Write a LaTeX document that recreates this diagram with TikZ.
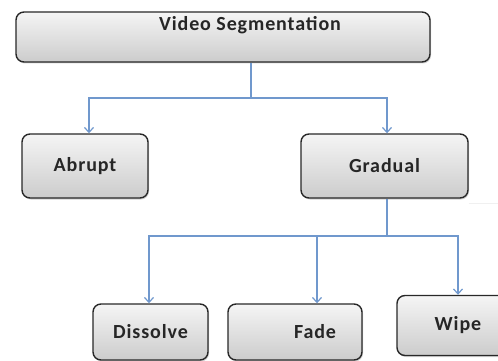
\documentclass[tikz,border=0pt]{standalone}
\usepackage{fontspec}
\setmainfont{Carlito}
\newfontfamily\boxfont[LetterSpace=4.5]{Carlito}
\usetikzlibrary{arrows.meta,shadows,calc}

\definecolor{linkblue}{RGB}{112,152,205}
\definecolor{boxline}{RGB}{40,40,40}

\begin{document}
\begin{tikzpicture}[
    x=1pt, y=-1pt,
    segbox/.style={rectangle, draw=boxline, line width=1.4pt, rounded corners=2.8mm,
        top color=gray!8, bottom color=gray!40, inner sep=0pt,
        drop shadow={shadow xshift=1pt, shadow yshift=-1.5pt, opacity=0.35},
        font=\boxfont\fontsize{20}{23}\selectfont\bfseries, text=black!85},
    boxtext/.style={font=\boxfont\fontsize{20}{23}\selectfont\bfseries, text=black!85},
    link/.style={draw=linkblue, line width=1.2pt,
        -{Straight Barb[length=5pt,width=9pt]}},
    stem/.style={draw=linkblue, line width=1.2pt}
]
\path[use as bounding box, clip] (0,0) rectangle (498,361);

\node (VideoSeg) [segbox, minimum width=414pt, minimum height=50pt,
    label={[boxtext, xshift=27pt, yshift=12pt]center:Video Segmentation}] at (223,37) {};

\node (Abrupt) [segbox, minimum width=126pt, minimum height=64pt] at (85,166) {Abrupt};
\node (Gradual) [segbox, minimum width=167pt, minimum height=64pt] at (384.5,166) {Gradual};

\node (Dissolve) [segbox, minimum width=115pt, minimum height=56pt] at (150.5,332) {Dissolve};
\node (Fade) [segbox, minimum width=134pt, minimum height=56pt,
    label={[boxtext, xshift=20pt]center:Fade}] at (295,332) {};
\node (Wipe) [segbox, minimum width=122pt, minimum height=60pt] at (458,325.5) {Wipe};

% forks
\coordinate (TopFork) at (251,98);
\coordinate (MidFork) at (387,236);
\coordinate (EdgeEnd) at (498,203);

\draw[stem] (VideoSeg.south -| TopFork) -- (TopFork);
\draw[link] (TopFork) -| ([xshift=4pt]Abrupt.north);
\draw[link] (TopFork) -| ([xshift=2.5pt]Gradual.north);

\draw[stem] (Gradual.south -| MidFork) -- (MidFork);
\draw[link] (MidFork) -| ([xshift=-1.5pt]Dissolve.north);
\draw[link] (MidFork) -| ([xshift=22pt]Fade.north);
\draw[link] (MidFork) -| (Wipe.north);

% faint rule at the right
\draw[gray!12, line width=0.8pt] (Gradual.south east |- EdgeEnd) -- (EdgeEnd);

\end{tikzpicture}
\end{document}
